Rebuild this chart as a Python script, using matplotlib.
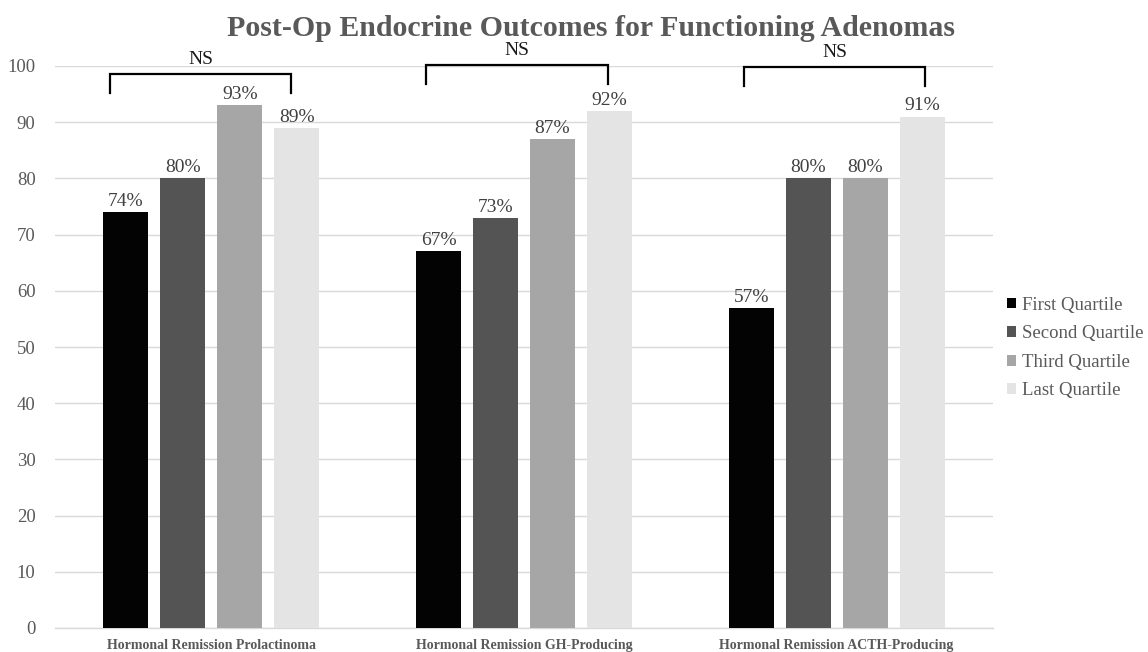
import matplotlib
matplotlib.use("Agg")
import matplotlib.pyplot as plt
import numpy as np

categories = ["Hormonal Remission Prolactinoma",
              "Hormonal Remission GH-Producing",
              "Hormonal Remission ACTH-Producing"]
series_names = ["First Quartile", "Second Quartile", "Third Quartile", "Last Quartile"]
first_q = [74, 67, 57]
second_q = [80, 73, 80]
third_q = [93, 87, 80]
last_q = [89, 92, 91]
series_values = [first_q, second_q, third_q, last_q]
y_ticks = [0, 10, 20, 30, 40, 50, 60, 70, 80, 90, 100]
bracket_label = "NS"

colors = ["#030303", "#545454", "#a6a6a6", "#e4e4e4"]
text_gray = "#595959"
serif = ["Liberation Serif", "DejaVu Serif"]

fig = plt.figure(figsize=(11.48, 6.52), dpi=100)
ax = fig.add_axes([55 / 1148, 1 - 628 / 652, (993 - 55) / 1148, (628 - 66) / 652])

x = np.arange(len(categories))
pitch = 0.182
width = 0.144
offsets = (np.arange(len(series_names)) - 1.5) * pitch

for i, (name, vals) in enumerate(zip(series_names, series_values)):
    bars = ax.bar(x + offsets[i], vals, width=width, color=colors[i], label=name, zorder=3)
    for b, v in zip(bars, vals):
        ax.annotate(f"{v}%", (b.get_x() + b.get_width() / 2, v),
                    xytext=(0, 1.5), textcoords="offset points",
                    ha="center", va="bottom", fontsize=14,
                    family=serif, color="#404040", zorder=4)

# significance brackets above each group
bracket_spans = [(-0.323, 0.256), (-0.313, 0.268), (-0.297, 0.284)]
bracket_tops = [98.6, 100.2, 99.8]
bracket_drop = 3.4
for xi, (lo, hi), top in zip(x, bracket_spans, bracket_tops):
    ax.plot([xi + lo, xi + lo, xi + hi, xi + hi],
            [top - bracket_drop, top, top, top - bracket_drop],
            color="black", lw=1.6, clip_on=False, zorder=5,
            solid_joinstyle="miter")
    ax.text(xi + (lo + hi) / 2, top + 2.6, bracket_label, ha="center", va="center",
            fontsize=14, family=serif, color="#1a1a1a")

ax.set_xlim(-0.5, len(categories) - 0.5)
ax.set_ylim(0, 100)
ax.set_yticks(y_ticks)
ax.set_yticklabels([str(t) for t in y_ticks], family=serif, fontsize=13.5, color=text_gray)
ax.set_xticks(x)
ax.set_xticklabels(categories, family=serif, fontsize=10, fontweight="bold", color=text_gray)
ax.tick_params(axis="both", length=0)
ax.tick_params(axis="y", pad=14)
ax.tick_params(axis="x", pad=8)
ax.yaxis.grid(True, color="#d9d9d9", lw=1, zorder=0)
for side in ["top", "right", "left"]:
    ax.spines[side].set_visible(False)
ax.spines["bottom"].set_color("#d9d9d9")
ax.spines["bottom"].set_linewidth(1)

fig.text(591 / 1148, 1 - 28 / 652, "Post-Op Endocrine Outcomes for Functioning Adenomas",
         ha="center", va="center", fontsize=21.5, fontweight="bold",
         family=serif, color=text_gray)

leg = fig.legend(loc="center left", bbox_to_anchor=(1007 / 1148, 1 - 348 / 652),
                 frameon=False, handlelength=0.5, handleheight=0.5,
                 handletextpad=0.3, labelspacing=0.62, borderpad=0, borderaxespad=0,
                 prop={"family": serif, "size": 13.5})
for t in leg.get_texts():
    t.set_color(text_gray)

fig.savefig("out.png", dpi=100)
